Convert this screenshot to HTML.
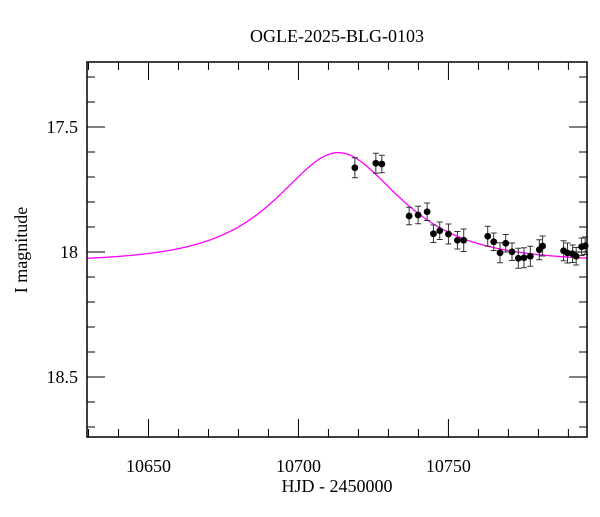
<!DOCTYPE html>
<html><head><meta charset="utf-8"><style>
html,body{margin:0;padding:0;background:#fff;}
svg text{font-family:"Liberation Serif",serif;fill:#000;}
</style></head><body>
<svg id="chart" width="600" height="512" xmlns="http://www.w3.org/2000/svg">
<rect width="600" height="512" fill="#fff"/>
<text x="337" y="42" font-size="18" text-anchor="middle">OGLE-2025-BLG-0103</text>
<text x="337" y="492" font-size="18" text-anchor="middle">HJD - 2450000</text>
<text x="27" y="250" font-size="18" text-anchor="middle" transform="rotate(-90 27 250)">I magnitude</text>
<g id="ticks"></g>
<g id="model"></g>
<g id="points"></g>
<rect x="87" y="62" width="500" height="375" fill="none" stroke="#000" stroke-width="1.5"/>
</svg>
<script>
const hjd=[10718.8,10725.8,10727.8,10736.9,10739.9,10742.9,10745.0,10747.1,10750.0,10753.0,10755.1,10763.1,10765.1,10767.2,10769.1,10771.2,10773.3,10775.2,10777.3,10780.3,10781.4,10788.4,10789.7,10791.4,10792.6,10794.4,10795.6];
const mags=[17.663,17.645,17.648,17.856,17.852,17.839,17.927,17.915,17.928,17.953,17.953,17.937,17.959,18.003,17.965,17.999,18.025,18.023,18.017,17.991,17.976,17.995,18.004,18.007,18.017,17.979,17.975];
const errs=[0.04,0.04,0.035,0.035,0.035,0.035,0.035,0.035,0.04,0.035,0.045,0.04,0.035,0.04,0.035,0.035,0.04,0.04,0.04,0.04,0.04,0.04,0.04,0.035,0.035,0.035,0.035];
const xTickLabels=[10650,10700,10750];
const yTickLabels=[17.5,18,18.5];
const modelParams=[10713.3,0.83,27.2,18.04]; // t0, u0, tE, baseline mag

const X0=87,X1=587,Y0=62,Y1=437;
const xmin=10629.5,xmax=10796.2;
const sx=v=>X0+(v-xmin)/(xmax-xmin)*(X1-X0);
const sy=v=>127+(v-17.5)*250;
const NS="http://www.w3.org/2000/svg";
function mk(t,a,p){const e=document.createElementNS(NS,t);for(const k in a)e.setAttribute(k,a[k]);p.appendChild(e);return e;}
const tk=document.getElementById('ticks');
for(let d=10630;d<=10796;d+=10){
  const major=d%50===0,L=major?18:8,x=sx(d);
  let l=mk('line',{x1:x,x2:x,y1:Y1,y2:Y1-L,stroke:'#000','stroke-width':1},tk);
  
  
  l=mk('line',{x1:x,x2:x,y1:Y0,y2:Y0+L,stroke:'#000','stroke-width':1},tk);
  
  
}
xTickLabels.forEach(v=>{const t=mk('text',{x:sx(v),y:472,'font-size':18,'text-anchor':'middle'},tk);t.textContent=v;
  
  });
for(let i=0;i<=14;i++){
  const m=17.3+i*0.1;const y=sy(m);if(y<Y0||y>Y1)continue;
  const major=Math.abs(m*2-Math.round(m*2))<1e-6,L=major?18:8;
  let l=mk('line',{x1:X0,x2:X0+L,y1:y,y2:y,stroke:'#000','stroke-width':1},tk);
  
  
  l=mk('line',{x1:X1,x2:X1-L,y1:y,y2:y,stroke:'#000','stroke-width':1},tk);
  
  
}
yTickLabels.forEach(v=>{const t=mk('text',{x:78,y:sy(v)+6,'font-size':18,'text-anchor':'end'},tk);t.textContent=v;
  
  });
const [t0,u0,tE,m0]=modelParams;
let d='';
for(let i=0;i<=500;i++){const t=xmin+(xmax-xmin)*i/500;const tau=(t-t0)/tE;const u=Math.sqrt(u0*u0+tau*tau);
  const A=(u*u+2)/(u*Math.sqrt(u*u+4));const m=m0-2.5*Math.log10(A);d+=(i?'L':'M')+sx(t).toFixed(2)+','+sy(m).toFixed(2);}
const mp=mk('path',{d:d,fill:'none',stroke:'#ff00ff','stroke-width':1.3},document.getElementById('model'));


const pg=document.getElementById('points');
hjd.forEach((t,i)=>{const x=sx(t),y=sy(mags[i]),e=errs[i]*250;
  const g=mk('g',{},pg);
  
  
  mk('line',{x1:x,x2:x,y1:y-e,y2:y+e,stroke:'#333','stroke-width':1},g);
  mk('line',{x1:x-3,x2:x+3,y1:y-e,y2:y-e,stroke:'#333','stroke-width':1},g);
  mk('line',{x1:x-3,x2:x+3,y1:y+e,y2:y+e,stroke:'#333','stroke-width':1},g);
  mk('circle',{cx:x,cy:y,r:3.4,fill:'#000'},g);
});
</script>
</body></html>
